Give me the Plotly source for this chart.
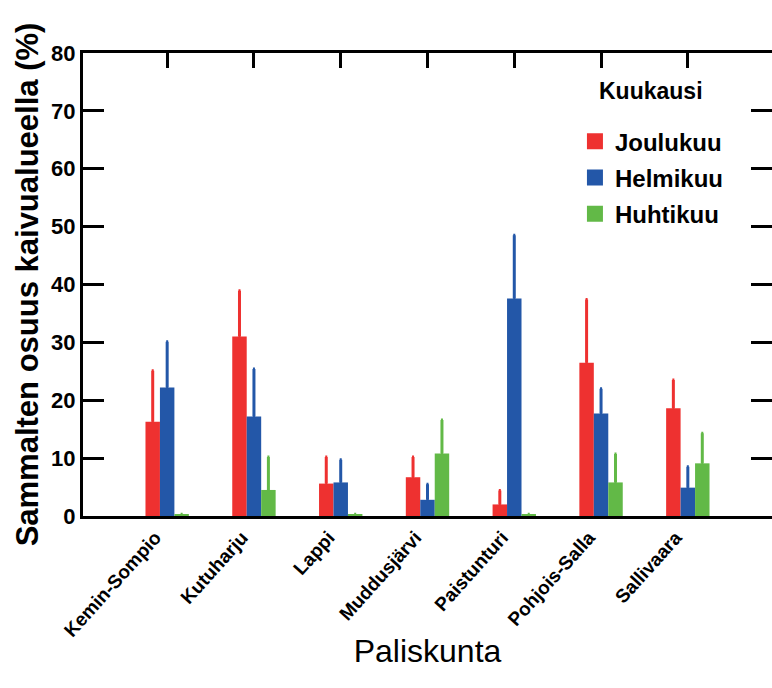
import plotly.graph_objects as go

categories = ["Kemin-Sompio", "Kutuharju", "Lappi", "Muddusjärvi", "Paistunturi", "Pohjois-Salla", "Sallivaara"]
months = ["Joulukuu", "Helmikuu", "Huhtikuu"]
joulukuu = [16.3, 31.0, 5.6, 6.7, 2.0, 26.5, 18.6]
joulukuu_err = [8.8, 7.9, 4.6, 3.5, 2.4, 10.9, 4.9]
helmikuu = [22.2, 17.2, 5.8, 2.8, 37.6, 17.7, 4.9]
helmikuu_err = [7.9, 8.2, 3.9, 2.7, 10.9, 4.3, 3.6]
huhtikuu = [0.3, 4.5, 0.3, 10.8, 0.3, 5.8, 9.1]
huhtikuu_err = [0.0, 5.7, 0.0, 5.8, 0.0, 4.9, 5.2]
colors = ["#EE3130", "#2357A8", "#62B947"]
yticks = [0, 10, 20, 30, 40, 50, 60, 70, 80]

FONT = "Liberation Sans"
fig = go.Figure()
for name, vals, errs, col in zip(months, [joulukuu, helmikuu, huhtikuu],
                                 [joulukuu_err, helmikuu_err, huhtikuu_err], colors):
    fig.add_trace(go.Bar(
        x=categories, y=vals, name=name, marker=dict(color=col, line=dict(width=0)),
        showlegend=False,
        error_y=dict(type="data", array=errs, symmetric=False,
                     arrayminus=[0] * len(errs), color=col, thickness=3, width=1,
                     visible=True),
    ))
    fig.add_trace(go.Scatter(
        x=[None], y=[None], mode="markers", name=name, legendgroup=name,
        marker=dict(symbol="square", size=20, color=col),
    ))

fig.add_annotation(
    text="Kuukausi", xref="paper", yref="paper", x=0.746, y=0.917,
    xanchor="left", yanchor="middle", showarrow=False,
    font=dict(size=23, family=FONT, weight="bold"),
)

fig.update_layout(
    width=772, height=688,
    margin=dict(l=83, r=0, t=53, b=172),
    plot_bgcolor="white", paper_bgcolor="white",
    barmode="group", bargap=0.5, bargroupgap=0,
    font=dict(family=FONT, color="black"),
    legend=dict(
        x=0.714, y=0.857, xanchor="left", yanchor="top",
        font=dict(size=24, family=FONT, weight="bold"),
        bgcolor="rgba(0,0,0,0)", tracegroupgap=2, itemsizing="trace",
    ),
    xaxis=dict(
        range=[-0.97, 6.97],
        showline=True, linewidth=3, linecolor="black", mirror="ticks",
        ticks="inside", ticklen=15, tickwidth=3, tickcolor="black",
        tickangle=-48, layer="below traces", ticklabelshift=-12,
        tickfont=dict(size=19, family=FONT, weight="bold"),
        title=dict(text="Paliskunta", font=dict(size=32, family=FONT), standoff=0),
        showgrid=False, zeroline=False,
    ),
    yaxis=dict(
        range=[0, 80], tickvals=yticks,
        showline=True, linewidth=3, linecolor="black", mirror="ticks",
        ticks="inside", ticklen=21, tickwidth=3, tickcolor="black",
        layer="below traces",
        tickfont=dict(size=22, family=FONT, weight="bold"),
        title=dict(text="Sammalten osuus kaivualueella (%)",
                   font=dict(size=31, family=FONT, weight="bold"), standoff=4),
        showgrid=False, zeroline=False, automargin=False,
    ),
)

fig.write_html("out.html")
